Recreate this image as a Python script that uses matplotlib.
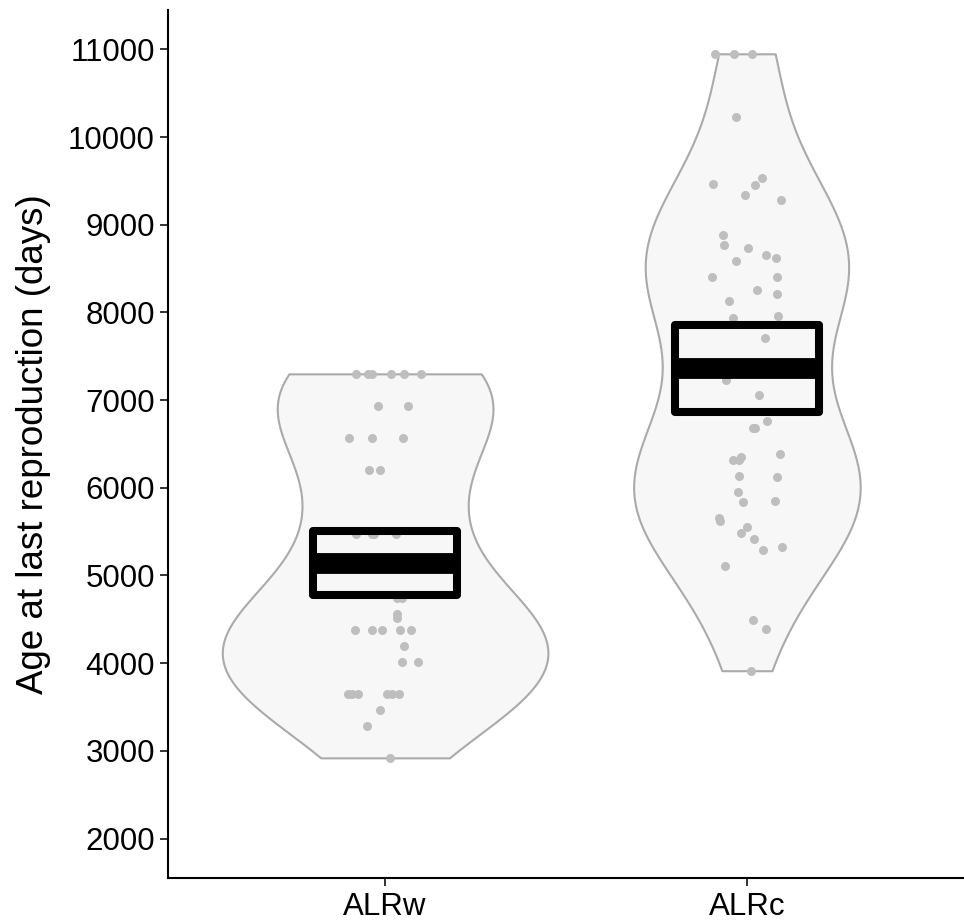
# violin of age at last reproduction, with jittered points and mean +/- SE bars

import numpy as np
import matplotlib
matplotlib.use("Agg")
from matplotlib import pyplot as plt
from matplotlib.patches import Rectangle

groups = ["ALRw", "ALRc"]

# ages (days) and the jitter offsets of each dot
alrw = [7300, 7300, 7300, 7300, 7300, 7300, 6935, 6935, 6570, 6570, 6570,
        6205, 6205, 5475, 5475, 5475, 5475, 4745, 4745, 4562, 4510,
        4380, 4380, 4380, 4380, 4380, 4197, 4015, 4015,
        3650, 3650, 3650, 3650, 3650, 3650, 3467, 3285, 2920]
alrw_jit = [-0.080, -0.047, -0.036, 0.017, 0.052, 0.099, -0.019, 0.064,
            -0.099, -0.036, 0.050, -0.044, -0.014, -0.080, -0.036, -0.030,
            0.030, 0.033, 0.047, 0.033, 0.033, -0.083, -0.036, -0.008,
            0.041, 0.072, 0.052, 0.047, 0.091, -0.102, -0.091, -0.075,
            0.006, 0.019, 0.039, -0.014, -0.050, 0.014]

alrc = [10950, 10950, 10950, 10229, 9538, 9462, 9457, 9343, 9279, 8881,
        8767, 8736, 8653, 8622, 8587, 8405, 8405, 8260, 8215, 8131, 7960,
        7937, 7709, 7229, 7054, 6758, 6685, 6685, 6386, 6347, 6317, 6317,
        6138, 6124, 5957, 5846, 5841, 5659, 5623, 5554, 5486, 5414, 5329,
        5295, 5112, 4497, 4387, 3914]
alrc_jit = [-0.088, -0.036, 0.014, -0.030, 0.041, -0.094, 0.022, -0.006,
            0.094, -0.066, -0.064, 0.003, 0.052, 0.080, -0.030, -0.097,
            0.083, 0.028, 0.083, -0.050, 0.086, -0.039, 0.050, -0.058,
            0.033, 0.055, 0.017, 0.022, 0.091, -0.017, -0.039, -0.022,
            -0.022, 0.083, -0.025, 0.077, -0.011, -0.077, -0.075, 0.000,
            -0.017, 0.019, 0.097, 0.044, -0.061, 0.017, 0.052, 0.011]

# mean and mean +/- SE as shown by the crossbars
means = [5146, 7362]
lower = [4780, 6861]
upper = [5509, 7856]

data = [np.array(alrw, float), np.array(alrc, float)]
jitter = [alrw_jit, alrc_jit]


def nrd0(x):
    sd = np.std(x, ddof=1)
    iqr = np.subtract(*np.percentile(x, [75, 25]))
    lo = min(sd, iqr / 1.34)
    return 0.9 * lo * len(x) ** (-0.2)


def kde(x, n=512):
    bw = nrd0(x)
    grid = np.linspace(x.min(), x.max(), n)
    d = np.exp(-0.5 * ((grid[:, None] - x[None, :]) / bw) ** 2).sum(axis=1)
    d = d / (len(x) * bw * np.sqrt(2 * np.pi))
    return grid, d


dens = [kde(x) for x in data]
dmax = max(d.max() for _, d in dens)

plt.rcParams["font.family"] = ["Liberation Sans", "DejaVu Sans"]
fig = plt.figure(figsize=(9.64, 9.24), dpi=100)
ax = fig.add_axes([0.1743, 0.0498, 0.8257, 0.9394])

for i, (grid, d) in enumerate(dens):
    pos = i + 1
    half = d / dmax * 0.45
    ax.fill_betweenx(grid, pos - half, pos + half, facecolor="#F7F7F7",
                     edgecolor="#AAAAAA", linewidth=1.5, zorder=1)
    ax.scatter(pos + np.array(jitter[i]), data[i], s=42, color="#BEBEBE",
               linewidths=0, zorder=2)
    ax.add_patch(Rectangle((pos - 0.2, lower[i]), 0.4, upper[i] - lower[i],
                           fill=False, edgecolor="black", linewidth=5.8,
                           joinstyle="round", zorder=3))
    ax.plot([pos - 0.2, pos + 0.2], [means[i], means[i]], color="black",
            linewidth=15, solid_capstyle="butt", zorder=3)

ax.set_xlim(0.4, 2.6)
ax.set_ylim(1550, 11450)
ax.set_xticks([1, 2])
ax.set_xticklabels(groups)
ax.set_yticks(range(2000, 11001, 1000))
ax.tick_params(labelsize=22.5, width=1.4, length=6, color="#333333")
ax.tick_params(axis="x", pad=4)
ax.set_ylabel("Age at last reproduction (days)", fontsize=26.5, labelpad=12)
for s in ["top", "right"]:
    ax.spines[s].set_visible(False)
for s in ["left", "bottom"]:
    ax.spines[s].set_linewidth(1.5)

plt.savefig("out.png", dpi=100)
